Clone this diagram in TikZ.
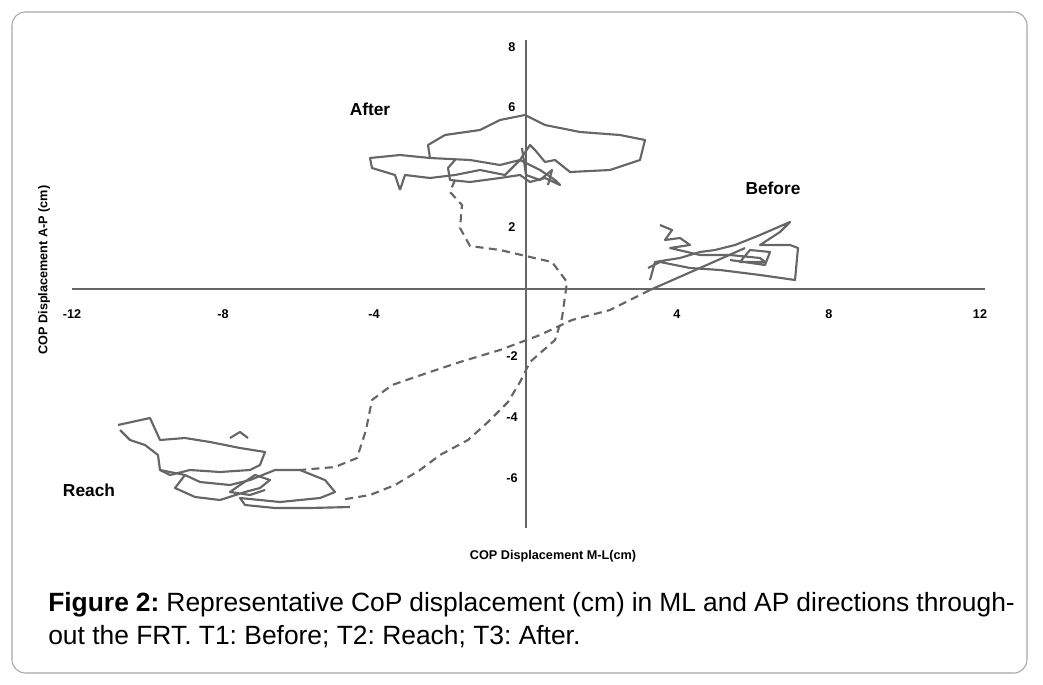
\documentclass[tikz,border=0pt]{standalone}
\usepackage{fontspec}
\setmainfont{Liberation Sans}
\begin{document}
\begin{tikzpicture}[x=0.75pt,y=-0.75pt,
  tick/.style={font=\bfseries\fontsize{9.5}{11}\selectfont},
  lbl/.style={font=\bfseries\fontsize{13}{15}\selectfont},
  trace/.style={draw=black!60,line width=1.6pt,line join=round},
  dtrace/.style={draw=black!60,line width=1.6pt,dashed,dash pattern=on 6pt off 4pt}]
\useasboundingbox (0,0) rectangle (1043,685);
\draw[black!35,line width=0.8pt,rounded corners=10pt] (12,12) rectangle (1027,673);
% axes
\coordinate (xl) at (72,289); \coordinate (xr) at (985,289);
\coordinate (yt) at (526,40); \coordinate (yb) at (526,528);
\draw[black!60,line width=0.9pt] (xl) -- (xr);
\draw[black!60,line width=0.9pt] (yt) -- (yb);
\foreach \v/\p in {-12/72,-8/223,-4/374,4/677,8/829,12/980}
  \node[tick] (tx\p) at (\p,314) {\v};
\foreach \v/\p in {8/47,6/107,2/227,-2/356,-4/417,-6/478}
  \node[tick] (ty\p) at (512,\p) {\v};
\node[tick,rotate=90] (ylab) at (44,270) {COP Displacement A-P (cm)};
\node[tick] (xlab) at (553,556) {COP Displacement M-L(cm)};
\node[lbl] (after) at (370,109) {After};
\node[lbl] (before) at (773,188) {Before};
\node[lbl] (reach) at (89,490) {Reach};
% After trace
\draw[trace] (400,190) -- (395,175) -- (372,168) -- (370,158) -- (400,155) -- (430,158) -- (428,145) -- (445,135) -- (480,130) -- (500,120) -- (525,115) -- (545,125) -- (580,132) -- (620,135) -- (645,140) -- (640,160) -- (610,170) -- (570,172) -- (555,160) -- (545,162) -- (535,150) -- (530,145) -- (520,160) -- (505,175) -- (480,170) -- (455,175) -- (430,178) -- (405,175) -- (400,190);
\draw[trace] (430,158) -- (470,160) -- (500,165) -- (520,160) -- (540,170) -- (555,180) -- (560,185) -- (545,178) -- (530,182) -- (520,175) -- (500,178) -- (470,182) -- (450,180) -- (448,168) -- (455,160);
\draw[trace] (522,148) -- (526,175) -- (540,180) -- (552,170) -- (548,185);
% Before trace
\draw[trace] (650,280) -- (655,262) -- (680,258) -- (700,252) -- (715,250) -- (735,245) -- (760,235) -- (790,222) -- (780,232) -- (760,245) -- (790,245) -- (798,248) -- (795,280) -- (760,275) -- (720,270) -- (690,268) -- (660,262) -- (648,268);
\draw[trace] (660,225) -- (672,230) -- (665,240) -- (680,238) -- (690,245) -- (670,248) -- (700,255) -- (730,255) -- (760,258) -- (765,262) -- (740,262) -- (750,250) -- (770,252) -- (765,265) -- (730,260);
\draw[trace] (650,290) -- (700,268) -- (745,248);
% Reach trace
\draw[trace] (118,425) -- (150,418) -- (160,440) -- (185,438) -- (210,442) -- (240,448) -- (265,452) -- (260,465) -- (250,470) -- (220,472) -- (190,470) -- (170,475) -- (160,470) -- (158,455) -- (145,445) -- (130,440) -- (120,430);
\draw[trace] (160,470) -- (185,475) -- (200,482) -- (230,485) -- (250,480) -- (275,470) -- (300,470) -- (325,480) -- (335,492) -- (320,498) -- (300,500) -- (280,502) -- (260,500) -- (240,498) -- (245,505) -- (275,508) -- (310,508) -- (350,507);
\draw[trace] (185,475) -- (175,488) -- (195,497) -- (220,500) -- (245,492) -- (260,488) -- (270,480) -- (255,475) -- (240,485) -- (230,492) -- (250,495) -- (265,490);
\draw[trace] (230,438) -- (240,432) -- (248,438);
% dashed connectors
\draw[dtrace] (455,180) -- (450,192) -- (462,205) -- (460,228) -- (470,246) -- (500,250) -- (530,257) -- (552,262) -- (567,282) -- (562,318) -- (555,340) -- (530,362) -- (520,382) -- (508,402) -- (488,422) -- (468,440) -- (440,455) -- (420,470) -- (395,485) -- (370,495) -- (340,500);
\draw[dtrace] (650,290) -- (610,310) -- (572,320) -- (540,335) -- (500,350) -- (460,362) -- (430,372) -- (392,385) -- (372,400) -- (366,430) -- (357,458) -- (335,467) -- (300,470);
% caption
\node[anchor=north west,text width=725pt,align=justify,inner sep=0pt,
  font=\fontsize{19.8}{25}\selectfont] (cap) at (48,592)
  {\frenchspacing\textbf{Figure 2:} Representative CoP displacement (cm) in ML and AP directions throughout the FRT. T1: Before; T2: Reach; T3: After.};
\end{tikzpicture}
\end{document}
